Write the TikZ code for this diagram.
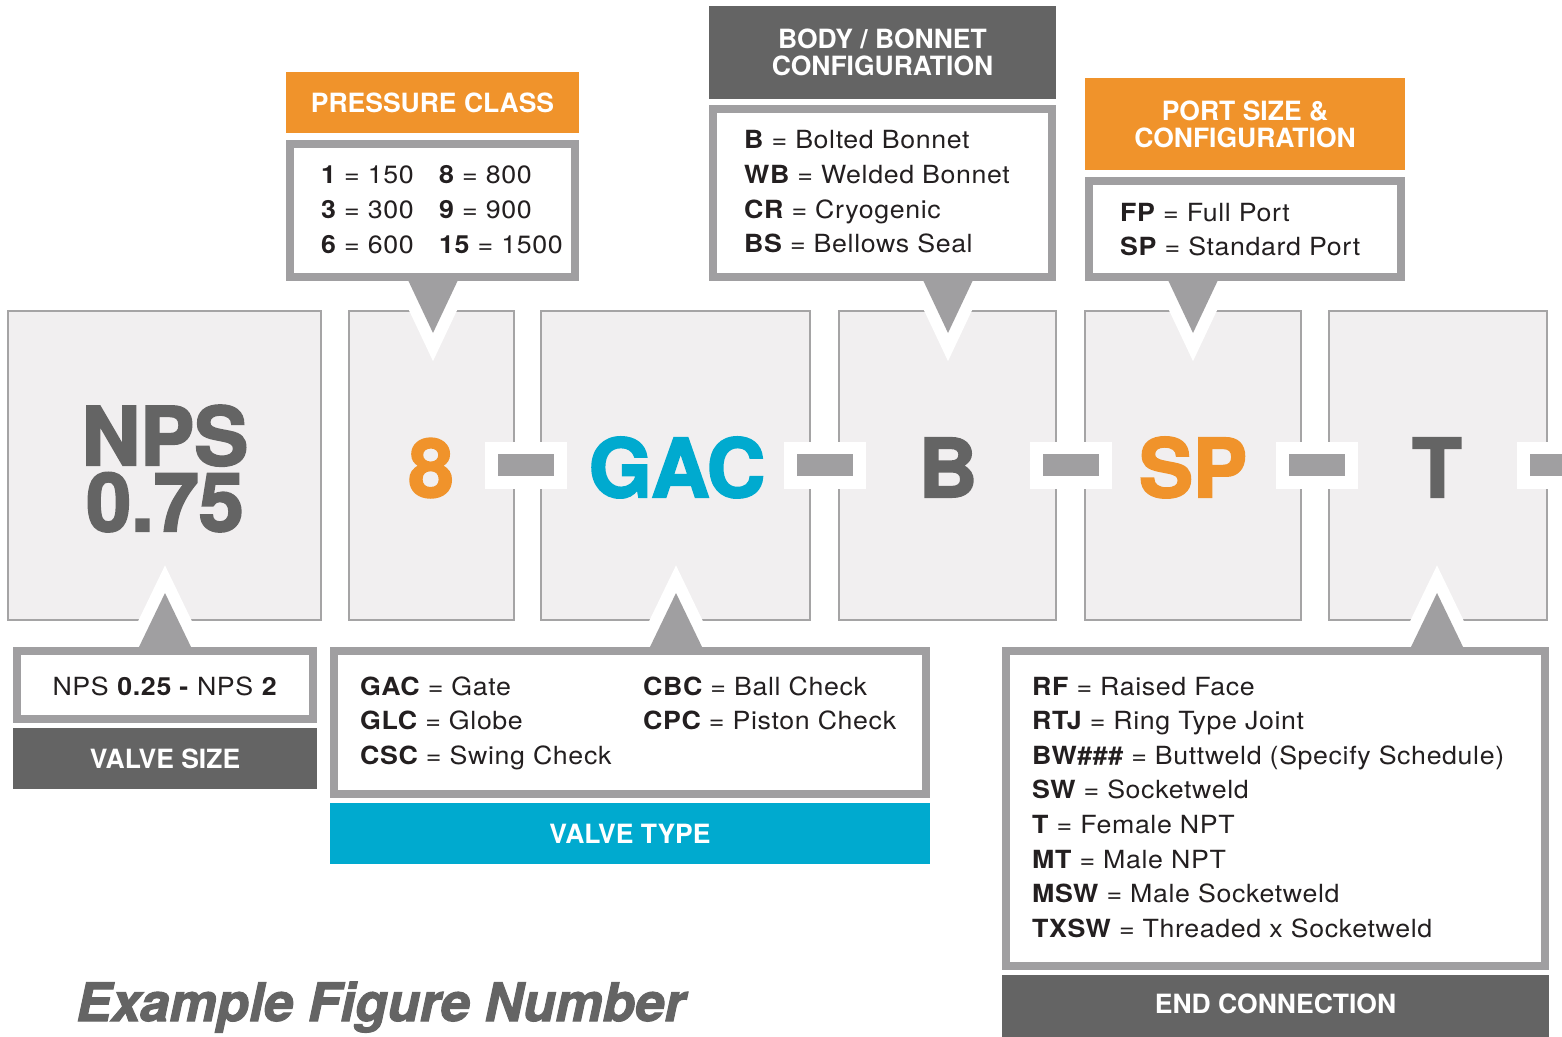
\documentclass[tikz,border=0pt]{standalone}
\usepackage{fontspec}
\setmainfont{TeX Gyre Heros}
\newfontfamily\entryfont[FakeStretch=1.07, LetterSpace=2.5]{TeX Gyre Heros}
\newfontfamily\heavyfont[BoldFeatures={FakeBold=2.5}, BoldItalicFeatures={FakeBold=2}]{TeX Gyre Heros}
\definecolor{orangeC}{HTML}{F0932B}
\definecolor{cyanC}{HTML}{00AACF}
\definecolor{darkC}{HTML}{646464}
\definecolor{midC}{HTML}{A09FA1}
\definecolor{boxfillC}{HTML}{F1EFF0}
\definecolor{boxlineC}{HTML}{A5A4A5}
\definecolor{textC}{HTML}{231F20}
\newcommand{\ent}[2]{{\bfseries #1} = #2}
\newcommand{\ptrshape}[4]{%
  \path[draw=white, line width=24pt, line join=miter] (#1-#4,#2) -- (#1+#4,#2) -- (#1,#3) -- cycle;
  \path[fill=midC] (#1-#4,#2) -- (#1+#4,#2) -- (#1,#3) -- cycle;}
\newcommand{\dashmark}[2]{%
  \path[fill=white] (#1-41,442) rectangle (#1+41,489);
  \path[fill=midC] (#1-28,454) rectangle (#1+28,476);
  \node[inner sep=0, minimum size=0] (#2) at (#1,465) {};}
\tikzset{
  bigbox/.style={fill=boxfillC, draw=boxlineC, line width=2pt},
  callout/.style={fill=white, draw=midC, line width=8pt},
  bigtext/.style={anchor=base, inner sep=0, font=\heavyfont\bfseries\fontsize{81}{66}\selectfont},
  headtext/.style={anchor=base, inner sep=0, text=white, font=\bfseries\fontsize{26.5}{27}\selectfont},
  entry/.style={anchor=base west, inner sep=0, text=textC, font=\entryfont\fontsize{25}{30}\selectfont},
}
\begin{document}
\begin{tikzpicture}[x=1pt,y=-1pt]
\useasboundingbox (0,0) rectangle (1562,1036);
% code boxes
\path[bigbox] (8,311) rectangle (321,620);
\path[bigbox] (349,311) rectangle (514,620);
\path[bigbox] (541,311) rectangle (810,620);
\path[bigbox] (839,311) rectangle (1056,620);
\path[bigbox] (1085,311) rectangle (1301,620);
\path[bigbox] (1329,311) rectangle (1547,620);
% dashes
\dashmark{526}{d1}
\dashmark{825}{d2}
\dashmark{1071}{d3}
\dashmark{1317}{d4}
\dashmark{1558}{d5}
% pointers
\ptrshape{433}{280}{333}{25}
\ptrshape{948}{280}{333}{25}
\ptrshape{1193}{280}{333}{25}
\ptrshape{165}{649}{593}{27}
\ptrshape{676}{649}{593}{27}
\ptrshape{1437}{649}{593}{27}
% callout boxes
\path[callout] (290,144) rectangle (575,277);
\path[callout] (713,109) rectangle (1052,277);
\path[callout] (1089,181) rectangle (1401,277);
\path[callout] (17,651) rectangle (313,719);
\path[callout] (334,651) rectangle (926,794);
\path[callout] (1006,651) rectangle (1545,966);
% headers
\path[fill=orangeC] (286,72) rectangle (579,133);
\path[fill=darkC] (709,6) rectangle (1056,99);
\path[fill=orangeC] (1085,78) rectangle (1405,170);
\path[fill=darkC] (13,728) rectangle (317,789);
\path[fill=cyanC] (330,803) rectangle (930,864);
\path[fill=darkC] (1002,975) rectangle (1549,1040);
\node[headtext] (hpc) at (432.5,112) {PRESSURE CLASS};
\node[headtext] (hbb1) at (882.5,48) {BODY / BONNET};
\node[headtext] (hbb2) at (882.5,75) {CONFIGURATION};
\node[headtext] (hps1) at (1245,120) {PORT SIZE \&};
\node[headtext] (hps2) at (1245,147) {CONFIGURATION};
\node[headtext] (hvs) at (165,768) {VALVE SIZE};
\node[headtext] (hvt) at (630,843) {VALVE TYPE};
\node[headtext] (hec) at (1275.5,1013) {END CONNECTION};
% big code
\node[bigtext, anchor=center, align=center, text=darkC] (nps) at (165,468.5) {NPS\\0.75};
\node[bigtext, text=orangeC] (c8) at (431,497) {8};
\node[bigtext, text=cyanC] (cgac) at (677,497) {GAC};
\node[bigtext, text=darkC] (cb) at (948,497) {B};
\node[bigtext, text=orangeC] (csp) at (1193,497) {SP};
\node[bigtext, text=darkC] (ct) at (1437,497) {T};
% pressure class entries
\node[entry] (p1) at (321,183) {\ent{1}{150}};
\node[entry] (p3) at (321,218) {\ent{3}{300}};
\node[entry] (p6) at (321,253) {\ent{6}{600}};
\node[entry] (p8) at (439,183) {\ent{8}{800}};
\node[entry] (p9) at (439,218) {\ent{9}{900}};
\node[entry] (p15) at (439,253) {\ent{15}{1500}};
% body entries
\node[entry] (bb) at (744,148) {\ent{B}{Bolted Bonnet}};
\node[entry] (bwb) at (744,183) {\ent{WB}{Welded Bonnet}};
\node[entry] (bcr) at (744,218) {\ent{CR}{Cryogenic}};
\node[entry] (bbs) at (744,252) {\ent{BS}{Bellows Seal}};
% port entries
\node[entry] (pfp) at (1120,221) {\ent{FP}{Full Port}};
\node[entry] (psp) at (1120,255) {\ent{SP}{Standard Port}};
% valve size
\node[entry, anchor=base] (vs) at (165,695) {NPS \textbf{0.25 -} NPS \textbf{2}};
% valve type
\node[entry] (tgac) at (360,695) {\ent{GAC}{Gate}};
\node[entry] (tglc) at (360,729) {\ent{GLC}{Globe}};
\node[entry] (tcsc) at (360,764) {\ent{CSC}{Swing Check}};
\node[entry] (tcbc) at (643,695) {\ent{CBC}{Ball Check}};
\node[entry] (tcpc) at (643,729) {\ent{CPC}{Piston Check}};
% end connection
\node[entry] (erf) at (1032,695) {\ent{RF}{Raised Face}};
\node[entry] (ertj) at (1032,729.6) {\ent{RTJ}{Ring Type Joint}};
\node[entry] (ebw) at (1032,764.2) {\ent{BW\#\#\#}{Buttweld (Specify Schedule)}};
\node[entry] (esw) at (1032,798.8) {\ent{SW}{Socketweld}};
\node[entry] (et) at (1032,833.4) {\ent{T}{Female NPT}};
\node[entry] (emt) at (1032,868) {\ent{MT}{Male NPT}};
\node[entry] (emsw) at (1032,902.6) {\ent{MSW}{Male Socketweld}};
\node[entry] (etxsw) at (1032,937.2) {\ent{TXSW}{Threaded x Socketweld}};
% title
\node[anchor=base west, inner sep=0, text=darkC, font=\heavyfont\bfseries\itshape\fontsize{53}{60}\selectfont] (title) at (76,1021) {Example Figure Number};
\end{tikzpicture}
\end{document}
